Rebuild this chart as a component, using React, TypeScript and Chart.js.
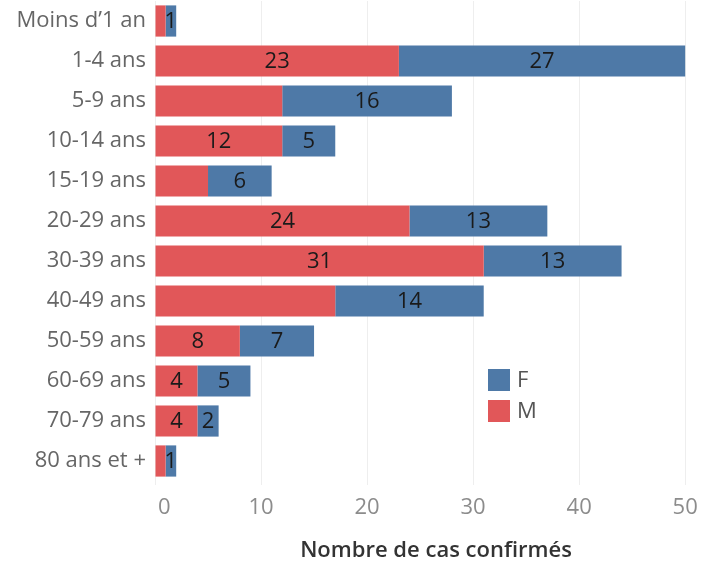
import React, { useEffect, useRef } from "react";
import { Chart, registerables } from "chart.js";

Chart.register(...registerables);

const categories = [
  "Moins d\u20191 an",
  "1-4 ans",
  "5-9 ans",
  "10-14 ans",
  "15-19 ans",
  "20-29 ans",
  "30-39 ans",
  "40-49 ans",
  "50-59 ans",
  "60-69 ans",
  "70-79 ans",
  "80 ans et +",
];
const maleValues = [1, 23, 12, 12, 5, 24, 31, 17, 8, 4, 4, 1];
const femaleValues = [1, 27, 16, 5, 6, 13, 13, 14, 7, 5, 2, 1];
const showMaleLabel = [false, true, false, true, false, true, true, false, true, true, true, false];
const showFemaleLabel = [true, true, true, true, true, true, true, true, true, true, true, true];
const xTicks = [0, 10, 20, 30, 40, 50];

const RED = "#E15759";
const BLUE = "#4E79A7";
const FONT = "'Open Sans', Lato, sans-serif";

const labelPlugin = {
  id: "segLabels",
  afterDatasetsDraw(chart: any) {
    const ctx = chart.ctx;
    ctx.save();
    ctx.font = `22px ${FONT}`;
    ctx.fillStyle = "#1a1a1a";
    ctx.textAlign = "center";
    ctx.textBaseline = "middle";
    const flags = [showMaleLabel, showFemaleLabel];
    chart.data.datasets.forEach((ds: any, di: number) => {
      const meta = chart.getDatasetMeta(di);
      meta.data.forEach((bar: any, i: number) => {
        if (!flags[di][i]) return;
        const x = (bar.x + bar.base) / 2;
        ctx.fillText(String(ds.data[i]), x, bar.y + 1);
      });
    });
    ctx.restore();
  },
};

const xTickPlugin = {
  id: "xTickLabels",
  afterDraw(chart: any) {
    const ctx = chart.ctx;
    const sx = chart.scales.x;
    ctx.save();
    ctx.font = `22px ${FONT}`;
    ctx.fillStyle = "#8c8c8c";
    ctx.textBaseline = "middle";
    xTicks.forEach((v, i) => {
      const px = sx.getPixelForValue(v);
      if (i === 0) {
        ctx.textAlign = "left";
        ctx.fillText(String(v), px + 3, 508);
      } else {
        ctx.textAlign = "center";
        ctx.fillText(String(v), px, 508);
      }
    });
    ctx.restore();
  },
};

const legendPlugin = {
  id: "innerLegend",
  afterDraw(chart: any) {
    const ctx = chart.ctx;
    ctx.save();
    const items = [
      { label: "F", color: BLUE },
      { label: "M", color: RED },
    ];
    ctx.font = `22px ${FONT}`;
    ctx.textBaseline = "middle";
    ctx.textAlign = "left";
    items.forEach((it, i) => {
      const y = 380 + i * 31;
      ctx.fillStyle = it.color;
      ctx.fillRect(488, y - 11, 22, 22);
      ctx.fillStyle = "#555";
      ctx.fillText(it.label, 517, y + 1);
    });
    ctx.restore();
  },
};

export default function App() {
  const ref = useRef<HTMLCanvasElement>(null);
  useEffect(() => {
    if (!ref.current) return;
    const chart = new Chart(ref.current, {
      type: "bar",
      data: {
        labels: categories,
        datasets: [
          { label: "M", data: maleValues, backgroundColor: RED, barPercentage: 0.78, categoryPercentage: 1 },
          { label: "F", data: femaleValues, backgroundColor: BLUE, barPercentage: 0.78, categoryPercentage: 1 },
        ],
      },
      options: {
        indexAxis: "y",
        responsive: false,
        animation: false,
        layout: { padding: { top: 1, left: 0, right: 0, bottom: 0 } },
        plugins: { legend: { display: false }, tooltip: { enabled: false } },
        scales: {
          x: {
            stacked: true,
            min: 0,
            max: 53,
            afterBuildTicks: (axis: any) => {
              axis.ticks = xTicks.map((v) => ({ value: v }));
            },
            afterFit: (axis: any) => {
              axis.height = 85;
              axis.paddingLeft = 0;
              axis.paddingRight = 0;
            },
            grid: { color: "#eeeeee", drawTicks: true, tickLength: 4, tickColor: "#eeeeee" },
            border: { display: false },
            ticks: { display: false },
            title: {
              display: true,
              text: "Nombre de cas confirmés",
              color: "#333",
              font: { family: FONT, size: 22, weight: "600" },
              padding: { top: 14, bottom: 2 },
            },
          },
          y: {
            stacked: true,
            afterFit: (axis: any) => {
              axis.width = 155;
              axis.paddingTop = 0;
              axis.paddingBottom = 0;
            },
            grid: { display: false, drawTicks: false },
            border: { display: false },
            ticks: { color: "#666", font: { family: FONT, size: 22 }, padding: 9 },
          },
        },
      },
      plugins: [labelPlugin, xTickPlugin, legendPlugin],
    });
    return () => chart.destroy();
  }, []);
  return (
    <div style={{ position: "absolute", left: 0, top: 0, width: 717, height: 566, background: "#fff" }}>
      <canvas ref={ref} width={717} height={566} />
    </div>
  );
}
